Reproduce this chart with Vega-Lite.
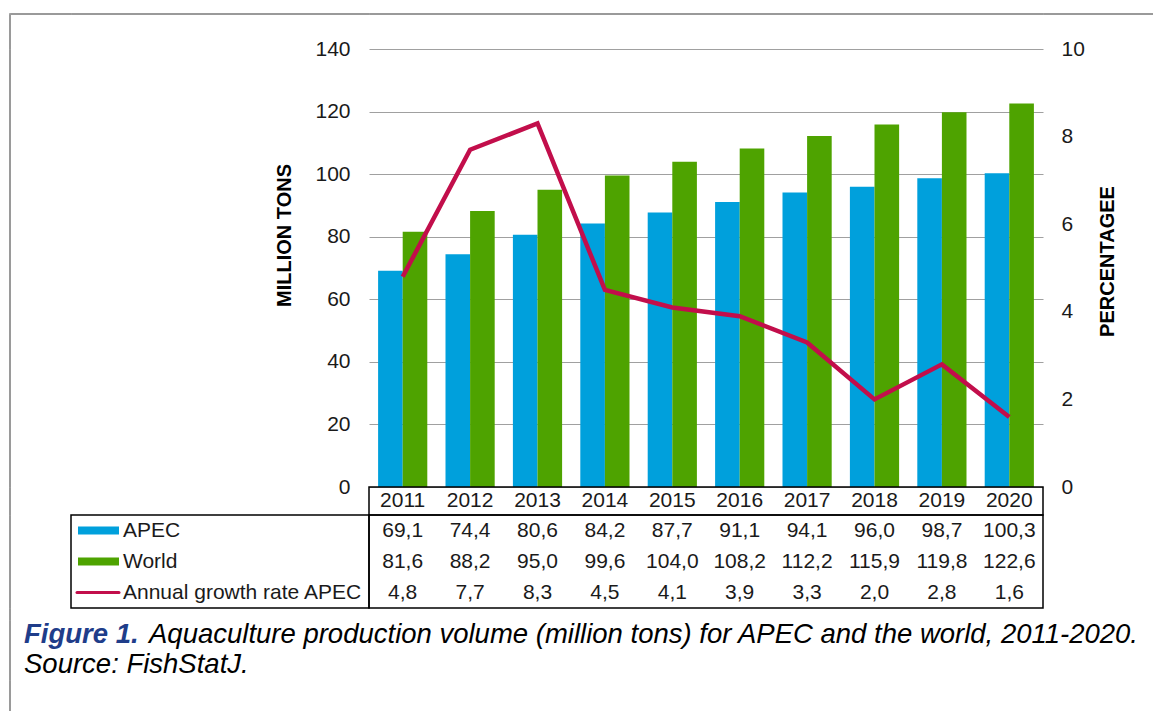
{
  "$schema": "https://vega.github.io/schema/vega-lite/v6.json",
  "padding": {"left": 8, "top": 12, "right": 0, "bottom": 0},
  "background": "white",
  "datasets": {
    "t": [
      {"year": "2011", "series": "APEC", "value": 69.1},
      {"year": "2012", "series": "APEC", "value": 74.4},
      {"year": "2013", "series": "APEC", "value": 80.6},
      {"year": "2014", "series": "APEC", "value": 84.2},
      {"year": "2015", "series": "APEC", "value": 87.7},
      {"year": "2016", "series": "APEC", "value": 91.1},
      {"year": "2017", "series": "APEC", "value": 94.1},
      {"year": "2018", "series": "APEC", "value": 96.0},
      {"year": "2019", "series": "APEC", "value": 98.7},
      {"year": "2020", "series": "APEC", "value": 100.3},
      {"year": "2011", "series": "World", "value": 81.6},
      {"year": "2012", "series": "World", "value": 88.2},
      {"year": "2013", "series": "World", "value": 95.0},
      {"year": "2014", "series": "World", "value": 99.6},
      {"year": "2015", "series": "World", "value": 104.0},
      {"year": "2016", "series": "World", "value": 108.2},
      {"year": "2017", "series": "World", "value": 112.2},
      {"year": "2018", "series": "World", "value": 115.9},
      {"year": "2019", "series": "World", "value": 119.8},
      {"year": "2020", "series": "World", "value": 122.6},
      {"year": "2011", "series": "Annual growth rate APEC", "value": 4.8},
      {"year": "2012", "series": "Annual growth rate APEC", "value": 7.7},
      {"year": "2013", "series": "Annual growth rate APEC", "value": 8.3},
      {"year": "2014", "series": "Annual growth rate APEC", "value": 4.5},
      {"year": "2015", "series": "Annual growth rate APEC", "value": 4.1},
      {"year": "2016", "series": "Annual growth rate APEC", "value": 3.9},
      {"year": "2017", "series": "Annual growth rate APEC", "value": 3.3},
      {"year": "2018", "series": "Annual growth rate APEC", "value": 2.0},
      {"year": "2019", "series": "Annual growth rate APEC", "value": 2.8},
      {"year": "2020", "series": "Annual growth rate APEC", "value": 1.6}
    ],
    "cap": [
      {"line": "1", "part": "fig", "text": "Figure 1."},
      {"line": "1", "part": "body", "text": "Aquaculture production volume (million tons) for APEC and the world, 2011-2020."},
      {"line": "2", "part": "src", "text": "Source: FishStatJ."}
    ]
  },
  "columns": 5,
  "spacing": 0,
  "bounds": "flush",
  "align": "each",
  "resolve": {"scale": {"x": "independent", "y": "independent", "color": "independent"}},
  "concat": [
    {"width": 1, "height": 1, "data": {"values": []}, "mark": "point", "view": {"stroke": "#9a9a9a", "strokeWidth": 1}},
    {"width": 61, "height": 1, "data": {"values": []}, "mark": "point", "view": {"stroke": "#9a9a9a", "strokeWidth": 1}},
    {"width": 298, "height": 1, "data": {"values": []}, "mark": "point", "view": {"stroke": "#9a9a9a", "strokeWidth": 1}},
    {"width": 674, "height": 1, "data": {"values": []}, "mark": "point", "view": {"stroke": "#9a9a9a", "strokeWidth": 1}},
    {"width": 110, "height": 1, "data": {"values": []}, "mark": "point", "view": {"stroke": "#9a9a9a", "strokeWidth": 1}},

    {"width": 1, "height": 35, "data": {"values": []}, "mark": "point", "view": {"stroke": "#9a9a9a", "strokeWidth": 1}},
    {"width": 61, "height": 35, "data": {"values": []}, "mark": "point"},
    {"width": 298, "height": 35, "data": {"values": []}, "mark": "point"},
    {"width": 674, "height": 35, "data": {"values": []}, "mark": "point"},
    {"width": 110, "height": 35, "data": {"values": []}, "mark": "point"},

    {"width": 1, "height": 438, "data": {"values": []}, "mark": "point", "view": {"stroke": "#9a9a9a", "strokeWidth": 1}},
    {"width": 61, "height": 438, "data": {"values": []}, "mark": "point"},
    {"width": 298, "height": 438, "data": {"values": []}, "mark": "point"},
    {
      "width": 674,
      "height": 438,
      "data": {"name": "t"},
      "layer": [
        {
          "transform": [{"filter": "datum.series !== 'Annual growth rate APEC'"}],
          "mark": {"type": "bar"},
          "encoding": {
            "x": {"field": "year", "type": "nominal", "axis": null, "scale": {"paddingInner": 0, "paddingOuter": 0}},
            "xOffset": {"field": "series", "type": "nominal", "sort": ["APEC", "World"], "scale": {"paddingInner": 0, "paddingOuter": 0.37}},
            "y": {
              "field": "value", "type": "quantitative",
              "scale": {"domain": [0, 140]},
              "axis": {
                "values": [0, 20, 40, 60, 80, 100, 120, 140],
                "grid": true, "gridColor": "#a0a0a0", "gridWidth": 1,
                "domain": false, "ticks": false, "tickSize": 0,
                "labelPadding": 19, "labelFontSize": 21, "labelColor": "#1a1a1a",
                "title": "MILLION TONS", "titleFontSize": 20, "titleFontWeight": "bold", "titleColor": "#000000",
                "titleAngle": 270, "titleBaseline": "alphabetic", "titleAlign": "center",
                "titleX": -79, "titleY": 186
              }
            },
            "color": {"field": "series", "type": "nominal", "scale": {"domain": ["APEC", "World"], "range": ["#00A0DC", "#4EA300"]}, "legend": null}
          }
        },
        {
          "transform": [{"filter": "datum.series === 'Annual growth rate APEC'"}],
          "mark": {"type": "line", "color": "#C20E4B", "strokeWidth": 4.5},
          "encoding": {
            "x": {"field": "year", "type": "nominal"},
            "y": {
              "field": "value", "type": "quantitative",
              "scale": {"domain": [0, 10]},
              "axis": {
                "orient": "right",
                "values": [0, 2, 4, 6, 8, 10],
                "grid": false, "domain": false, "ticks": false, "tickSize": 0,
                "labelPadding": 18, "labelFontSize": 21, "labelColor": "#1a1a1a",
                "title": "PERCENTAGEE", "titleFontSize": 20, "titleFontWeight": "bold", "titleColor": "#000000",
                "titleAngle": 270, "titleBaseline": "alphabetic", "titleAlign": "center",
                "titleX": 70, "titleY": 212
              }
            }
          }
        }
      ],
      "resolve": {"scale": {"y": "independent"}}
    },
    {"width": 110, "height": 438, "data": {"values": []}, "mark": "point"},

    {"width": 1, "height": 28, "data": {"values": []}, "mark": "point", "view": {"stroke": "#9a9a9a", "strokeWidth": 1}},
    {"width": 61, "height": 28, "data": {"values": []}, "mark": "point"},
    {"width": 298, "height": 28, "data": {"values": []}, "mark": "point"},
    {
      "width": 674,
      "height": 28,
      "data": {"name": "t"},
      "transform": [{"filter": "datum.series === 'APEC'"}],
      "mark": {"type": "text", "fontSize": 21, "color": "#1a1a1a"},
      "encoding": {
        "x": {"field": "year", "type": "nominal", "axis": null, "scale": {"paddingInner": 0, "paddingOuter": 0}},
        "text": {"field": "year"}
      },
      "view": {"stroke": "#000000", "strokeWidth": 1.5}
    },
    {"width": 110, "height": 28, "data": {"values": []}, "mark": "point"},

    {"width": 1, "height": 93, "data": {"values": []}, "mark": "point", "view": {"stroke": "#9a9a9a", "strokeWidth": 1}},
    {"width": 61, "height": 93, "data": {"values": []}, "mark": "point"},
    {
      "width": 298,
      "height": 93,
      "data": {"name": "t"},
      "transform": [{"filter": "datum.year === '2011'"}],
      "encoding": {
        "y": {"field": "series", "type": "nominal", "sort": ["APEC", "World", "Annual growth rate APEC"], "axis": null, "scale": {"paddingInner": 0, "paddingOuter": 0}}
      },
      "layer": [
        {
          "transform": [{"filter": "datum.series !== 'Annual growth rate APEC'"}],
          "mark": {"type": "rule", "strokeWidth": 8},
          "encoding": {
            "x": {"value": 7},
            "x2": {"value": 48},
            "color": {"field": "series", "type": "nominal", "scale": {"domain": ["APEC", "World"], "range": ["#00A0DC", "#4EA300"]}, "legend": null}
          }
        },
        {
          "transform": [{"filter": "datum.series === 'Annual growth rate APEC'"}],
          "mark": {"type": "rule", "strokeWidth": 3, "color": "#C20E4B", "strokeCap": "round"},
          "encoding": {"x": {"value": 6}, "x2": {"value": 48}}
        },
        {
          "mark": {"type": "text", "align": "left", "fontSize": 21, "color": "#1a1a1a"},
          "encoding": {"x": {"value": 52}, "text": {"field": "series"}}
        }
      ],
      "view": {"stroke": "#000000", "strokeWidth": 1.5}
    },
    {
      "width": 674,
      "height": 93,
      "data": {"name": "t"},
      "mark": {"type": "text", "fontSize": 21, "color": "#1a1a1a"},
      "encoding": {
        "x": {"field": "year", "type": "nominal", "axis": null, "scale": {"paddingInner": 0, "paddingOuter": 0}},
        "y": {"field": "series", "type": "nominal", "sort": ["APEC", "World", "Annual growth rate APEC"], "axis": null, "scale": {"paddingInner": 0, "paddingOuter": 0}},
        "text": {"field": "value", "type": "quantitative", "format": ".1f"}
      },
      "view": {"stroke": "#000000", "strokeWidth": 1.5}
    },
    {"width": 110, "height": 93, "data": {"values": []}, "mark": "point"},

    {"width": 1, "height": 12, "data": {"values": []}, "mark": "point", "view": {"stroke": "#9a9a9a", "strokeWidth": 1}},
    {"width": 61, "height": 12, "data": {"values": []}, "mark": "point"},
    {"width": 298, "height": 12, "data": {"values": []}, "mark": "point"},
    {"width": 674, "height": 12, "data": {"values": []}, "mark": "point"},
    {"width": 110, "height": 12, "data": {"values": []}, "mark": "point"},

    {"width": 1, "height": 60, "data": {"values": []}, "mark": "point", "view": {"stroke": "#9a9a9a", "strokeWidth": 1}},
    {
      "width": 61,
      "height": 60,
      "data": {"name": "cap"},
      "encoding": {
        "y": {"field": "line", "type": "ordinal", "axis": null, "scale": {"paddingInner": 0, "paddingOuter": 0}},
        "x": {"value": 14},
        "text": {"field": "text"}
      },
      "layer": [
        {"transform": [{"filter": "datum.part === 'fig'"}], "mark": {"type": "text", "align": "left", "fontSize": 27.5, "fontStyle": "italic", "fontWeight": "bold", "color": "#1F3D8A"}},
        {"transform": [{"filter": "datum.part === 'body'"}], "mark": {"type": "text", "align": "left", "fontSize": 27.5, "fontStyle": "italic", "color": "#000000", "dx": 125}},
        {"transform": [{"filter": "datum.part === 'src'"}], "mark": {"type": "text", "align": "left", "fontSize": 27.5, "fontStyle": "italic", "color": "#000000"}}
      ]
    },
    {"width": 298, "height": 60, "data": {"values": []}, "mark": "point"},
    {"width": 674, "height": 60, "data": {"values": []}, "mark": "point"},
    {"width": 110, "height": 60, "data": {"values": []}, "mark": "point"},

    {"width": 1, "height": 31, "data": {"values": []}, "mark": "point", "view": {"stroke": "#9a9a9a", "strokeWidth": 1}},
    {"width": 61, "height": 31, "data": {"values": []}, "mark": "point"},
    {"width": 298, "height": 31, "data": {"values": []}, "mark": "point"},
    {"width": 674, "height": 31, "data": {"values": []}, "mark": "point"},
    {"width": 110, "height": 31, "data": {"values": []}, "mark": "point"}
  ],
  "config": {
    "view": {"stroke": null},
    "font": "Liberation Sans",
    "locale": {"number": {"decimal": ",", "thousands": ".", "grouping": [3], "currency": ["", " €"]}}
  }
}
